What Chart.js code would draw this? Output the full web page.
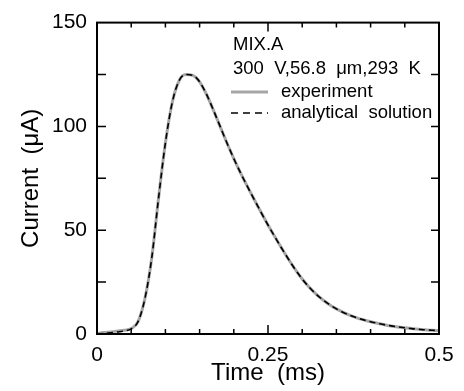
<!DOCTYPE html>
<html>
<head>
<meta charset="utf-8">
<script src="https://cdn.jsdelivr.net/npm/chart.js@4.4.1/dist/chart.umd.min.js"></script>
<style>
  html, body { margin: 0; padding: 0; background: #fff; }
  #wrap { width: 464px; height: 391px; }
</style>
</head>
<body>
<div id="wrap"><canvas id="currentChart" width="464" height="391"></canvas></div>
<script>
// time (ms)
const times = [0, 0.01, 0.02, 0.03, 0.04, 0.05, 0.06, 0.07, 0.08, 0.09,
    0.10, 0.11, 0.12, 0.13, 0.14, 0.15, 0.16, 0.17, 0.18, 0.19,
    0.20, 0.21, 0.22, 0.23, 0.24, 0.25, 0.26, 0.27, 0.28, 0.29,
    0.30, 0.31, 0.32, 0.33, 0.34, 0.35, 0.36, 0.37, 0.38, 0.39,
    0.40, 0.41, 0.42, 0.43, 0.44, 0.45, 0.46, 0.47, 0.48, 0.49, 0.50];

// current (uA)
const experiment = [0.2, 0.7, 1.0, 1.4, 1.8, 2.6, 6, 17, 36.5, 65.5,
    92, 111.5, 122, 125, 124.6, 121.5, 115.5, 108, 100, 92,
    84.5, 77.5, 71, 64.7, 58.5, 52.5, 46.8, 41.3, 36, 31,
    26.5, 22.6, 19.3, 16.5, 14.1, 12.1, 10.4, 9.0, 7.8, 6.8,
    5.9, 5.2, 4.5, 3.9, 3.4, 3.0, 2.6, 2.3, 2.0, 1.8, 1.6];

const analytical = [0, 0.3, 0.6, 1.0, 1.5, 2.5, 6, 17, 36.5, 65.5,
    92, 111.5, 122, 125, 124.6, 121.5, 115.5, 108, 100, 92,
    84.5, 77.5, 71, 64.7, 58.5, 52.5, 46.8, 41.3, 36, 31,
    26.5, 22.6, 19.3, 16.5, 14.1, 12.1, 10.4, 9.0, 7.8, 6.8,
    5.9, 5.2, 4.5, 3.9, 3.4, 3.0, 2.6, 2.3, 2.0, 1.8, 1.6];

const xTickLabels = [0, 0.25, 0.5];
const yTickLabels = [0, 50, 100, 150];
const xMinorTicks = [0.05, 0.1, 0.15, 0.2, 0.25, 0.3, 0.35, 0.4, 0.45];
const yMinorTicks = [25, 50, 75, 100, 125];

const legendNote = ['MIX.A', '300  V,56.8  \u03bcm,293  K'];
const seriesNames = ['experiment', 'analytical  solution'];

const FONT = 'Liberation Sans, Arial, sans-serif';

const toPoints = (vals) => vals.map((v, i) => ({ x: times[i], y: v }));

// frame with inward ticks, plus the legend box in the upper right
const framePlugin = {
    id: 'frame',
    afterDatasetsDraw(chart) {
        const ctx = chart.ctx;
        const a = chart.chartArea;
        const xs = chart.scales.x;
        const ys = chart.scales.y;
        ctx.save();
        ctx.strokeStyle = '#000';
        ctx.lineWidth = 2;
        ctx.strokeRect(a.left, a.top, a.right - a.left, a.bottom - a.top);

        ctx.lineWidth = 1.5;
        ctx.beginPath();
        xMinorTicks.forEach(t => {
            const px = xs.getPixelForValue(t);
            const len = Math.abs(t - 0.25) < 1e-6 ? 9 : 5;
            ctx.moveTo(px, a.bottom); ctx.lineTo(px, a.bottom - len);
            ctx.moveTo(px, a.top); ctx.lineTo(px, a.top + len);
        });
        yMinorTicks.forEach(v => {
            const py = ys.getPixelForValue(v);
            ctx.moveTo(a.left, py); ctx.lineTo(a.left + 9, py);
            ctx.moveTo(a.right, py); ctx.lineTo(a.right - 8, py);
        });
        ctx.stroke();

        // legend
        const lx = 233;
        ctx.fillStyle = '#000';
        ctx.font = '18.5px ' + FONT;
        ctx.textBaseline = 'middle';
        ctx.textAlign = 'left';
        ctx.fillText(legendNote[0], lx, 45);
        ctx.fillText(legendNote[1], lx, 68.5);

        const rows = [92, 113];
        const styles = [
            { color: '#a6a6a6', width: 3, dash: [] },
            { color: '#000', width: 1.6, dash: [7, 5] }
        ];
        styles.forEach((s, i) => {
            ctx.save();
            ctx.strokeStyle = s.color;
            ctx.lineWidth = s.width;
            ctx.setLineDash(s.dash);
            ctx.beginPath();
            ctx.moveTo(231, rows[i]);
            ctx.lineTo(268, rows[i]);
            ctx.stroke();
            ctx.restore();
            ctx.fillText(seriesNames[i], 281, rows[i]);
        });
        ctx.restore();
    }
};

new Chart(document.getElementById('currentChart'), {
    type: 'line',
    data: {
        datasets: [
            {
                label: seriesNames[0],
                data: toPoints(experiment),
                borderColor: '#a6a6a6',
                borderWidth: 3,
                pointRadius: 0,
                cubicInterpolationMode: 'monotone',
                fill: false,
                order: 1
            },
            {
                label: seriesNames[1],
                data: toPoints(analytical),
                borderColor: '#000',
                borderWidth: 1.6,
                borderDash: [6, 4],
                pointRadius: 0,
                cubicInterpolationMode: 'monotone',
                fill: false,
                order: 0
            }
        ]
    },
    options: {
        responsive: false,
        animation: false,
        layout: { padding: { top: 21, right: 25, left: 0, bottom: 0 } },
        plugins: {
            legend: { display: false },
            tooltip: { enabled: false }
        },
        scales: {
            x: {
                type: 'linear',
                min: 0,
                max: 0.5,
                afterFit(scale) { scale.height = 57; },
                afterBuildTicks(scale) {
                    scale.ticks = xTickLabels.map(v => ({ value: v }));
                },
                grid: { display: false, drawTicks: false },
                border: { display: false },
                ticks: {
                    autoSkip: false,
                    maxRotation: 0,
                    padding: 9,
                    color: '#000',
                    font: { family: FONT, size: 21 },
                    callback: (v) => String(v)
                },
                title: {
                    display: true,
                    text: 'Time  (ms)',
                    color: '#000',
                    font: { family: FONT, size: 24 },
                    padding: { top: 0, bottom: 3 }
                }
            },
            y: {
                min: 0,
                max: 150,
                afterFit(scale) { scale.width = 97; },
                afterBuildTicks(scale) {
                    scale.ticks = yTickLabels.map(v => ({ value: v }));
                },
                grid: { display: false, drawTicks: false },
                border: { display: false },
                ticks: {
                    autoSkip: false,
                    padding: 10,
                    color: '#000',
                    font: { family: FONT, size: 21 },
                    callback: (v) => String(v)
                },
                title: {
                    display: true,
                    text: 'Current  (\u03bcA)',
                    color: '#000',
                    font: { family: FONT, size: 24 },
                    padding: { top: 17, bottom: 0 }
                }
            }
        }
    },
    plugins: [framePlugin]
});
</script>
</body>
</html>
